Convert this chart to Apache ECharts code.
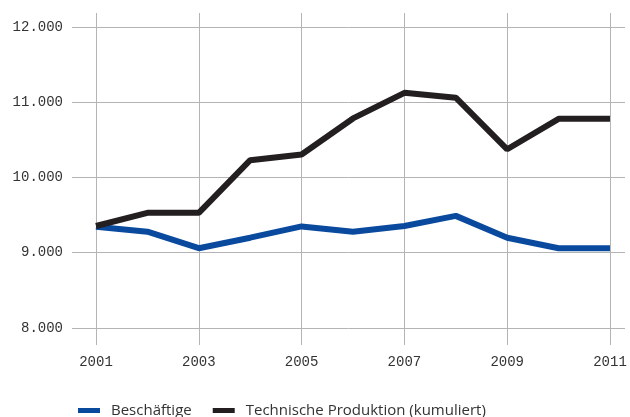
<!DOCTYPE html>
<html>
<head>
<meta charset="utf-8">
<script src="https://cdn.jsdelivr.net/npm/echarts@6/dist/echarts.min.js"></script>
<style>
  html, body { margin: 0; padding: 0; background: #fff; }
  #chart { width: 630px; height: 417px; }
</style>
</head>
<body>
<div id="chart"></div>
<script>
// data
const years = [2001, 2002, 2003, 2004, 2005, 2006, 2007, 2008, 2009, 2010, 2011];
const beschaeftigte = [9345, 9280, 9060, 9200, 9350, 9280, 9355, 9490, 9200, 9060, 9060];
const produktion = [9355, 9530, 9530, 10230, 10305, 10785, 11125, 11060, 10375, 10780, 10780];
const xTicks = [2001, 2003, 2005, 2007, 2009, 2011];
const yTicks = [8000, 9000, 10000, 11000, 12000];

const fmt = v => String(v).replace(/\B(?=(\d{3})+(?!\d))/g, '.');

const chart = echarts.init(document.getElementById('chart'), null, { renderer: 'canvas' });

const pair = arr => years.map((y, i) => [y, arr[i]]);

chart.setOption({
  animation: false,
  grid: { left: 72, right: 5, top: 13, bottom: 72 },
  xAxis: {
    type: 'value',
    min: 2000.533,
    max: 2011.292,
    axisLine: { show: false },
    axisTick: { show: false, customValues: xTicks },
    axisLabel: {
      customValues: xTicks,
      formatter: v => String(v),
      margin: 10,
      color: '#333',
      fontFamily: 'Liberation Mono',
      fontSize: 14
    },
    splitLine: { show: true, lineStyle: { color: '#b4b4b4', width: 1 } }
  },
  yAxis: {
    type: 'value',
    min: 7774,
    max: 12186,
    axisLine: { show: false },
    axisTick: { show: false, customValues: yTicks },
    axisLabel: {
      customValues: yTicks,
      formatter: v => fmt(v),
      margin: 9,
      color: '#333',
      fontFamily: 'Liberation Mono',
      fontSize: 14
    },
    splitLine: { show: true, lineStyle: { color: '#b4b4b4', width: 1 } }
  },
  legend: {
    left: 73,
    top: 398,
    icon: 'rect',
    itemWidth: 22,
    itemHeight: 5,
    itemGap: 21,
    textStyle: { color: '#333', fontFamily: 'Open Sans', fontSize: 15, padding: [0, 0, 0, 6] },
    data: ['Beschäftige', 'Technische Produktion (kumuliert)']
  },
  series: [
    {
      name: 'Beschäftige',
      type: 'line',
      data: pair(beschaeftigte),
      symbol: 'none',
      color: '#0a4a9e',
      lineStyle: { width: 6, color: '#0a4a9e' }
    },
    {
      name: 'Technische Produktion (kumuliert)',
      type: 'line',
      data: pair(produktion),
      symbol: 'none',
      color: '#231f20',
      lineStyle: { width: 6, color: '#231f20' }
    }
  ]
});
</script>
</body>
</html>
